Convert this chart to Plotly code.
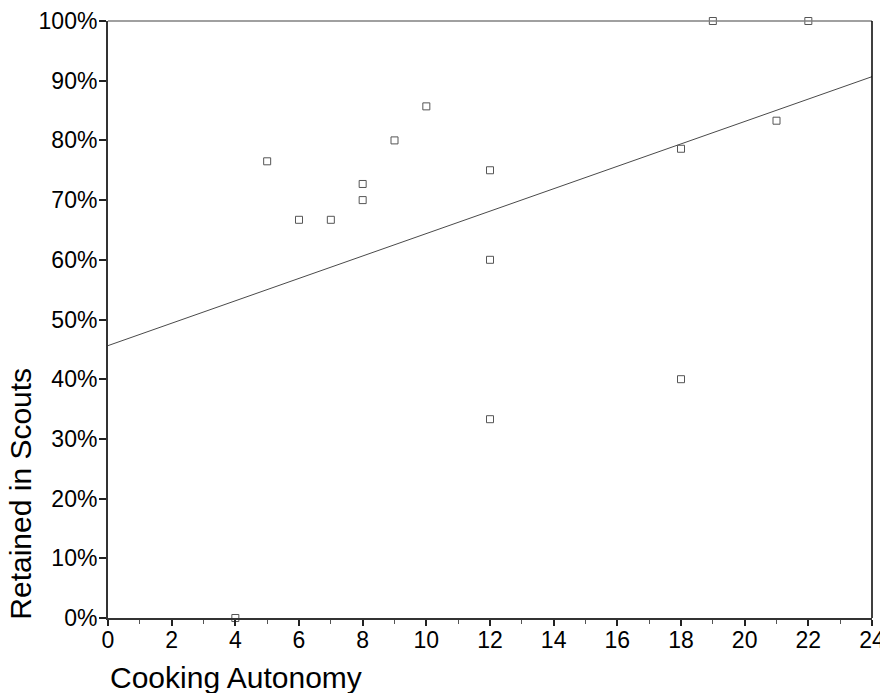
import numpy as np
import plotly.graph_objects as go

# Data
cooking_autonomy = [4, 5, 6, 7, 8, 8, 9, 10, 12, 12, 12, 18, 18, 19, 21, 22]
retained = [0.0, 0.765, 0.667, 0.667, 0.727, 0.70, 0.80, 0.857, 0.75, 0.60, 0.333,
            0.786, 0.40, 1.0, 0.833, 1.0]
x_tick_vals = list(range(0, 25, 2))
y_tick_vals = [i / 10 for i in range(0, 11)]

x_range = [0, 24]
y_range = [0, 1]

# Linear regression fit line
slope, intercept = np.polyfit(cooking_autonomy, retained, 1)
fit_x = np.array(x_range, dtype=float)
fit_y = slope * fit_x + intercept

FONT = "Liberation Sans, Arial, sans-serif"

fig = go.Figure()
fig.add_trace(go.Scatter(
    x=fit_x, y=fit_y, mode="lines",
    line=dict(color="#4a4a4a", width=1),
    hoverinfo="skip", showlegend=False,
))
fig.add_trace(go.Scatter(
    x=cooking_autonomy, y=retained, mode="markers",
    marker=dict(symbol="square-open", size=7, color="#555555", line=dict(width=1, color="#555555")),
    cliponaxis=False, showlegend=False,
))

# page body has an 8px margin, so offsets are compensated in the figure margins
fig.update_layout(
    width=888, height=693,
    margin=dict(l=100, r=24, t=13, b=83),
    paper_bgcolor="white", plot_bgcolor="white",
    font=dict(family=FONT, color="black", size=23),
    xaxis=dict(
        range=x_range, tickvals=x_tick_vals, ticks="outside", ticklen=6, tickwidth=1.5,
        tickcolor="#222222", showgrid=False, zeroline=False, automargin=False,
        showline=True, linecolor="#333333", linewidth=2,
        tickfont=dict(size=23, family=FONT), ticklabelstandoff=-6,
        minor=dict(dtick=1, tick0=0, ticks="outside", ticklen=4, tickcolor="#555555", tickwidth=1),
    ),
    yaxis=dict(
        range=y_range, tickvals=y_tick_vals, tickformat=".0%", ticks="outside", ticklen=7,
        tickwidth=1.5, tickcolor="#222222", showgrid=False, zeroline=False, automargin=False,
        showline=True, linecolor="#333333", linewidth=2,
        tickfont=dict(size=23, family=FONT), ticklabelstandoff=-3,
    ),
    shapes=[
        dict(type="line", xref="paper", yref="paper", x0=0, x1=1, y0=1, y1=1,
             line=dict(color="#808080", width=1.5)),
        dict(type="line", xref="paper", yref="paper", x0=1, x1=1, y0=0, y1=1,
             line=dict(color="black", width=1.5)),
    ],
    annotations=[
        dict(text="Cooking Autonomy", xref="paper", yref="paper", x=0, y=-0.1,
             xanchor="left", yanchor="middle", showarrow=False,
             font=dict(size=30, family=FONT, color="black")),
        dict(text="Retained in Scouts", xref="paper", yref="paper", x=-0.1145, y=-0.007,
             xanchor="center", yanchor="bottom", textangle=-90, showarrow=False,
             font=dict(size=30, family=FONT, color="black")),
    ],
)

fig.write_html("out.html")
